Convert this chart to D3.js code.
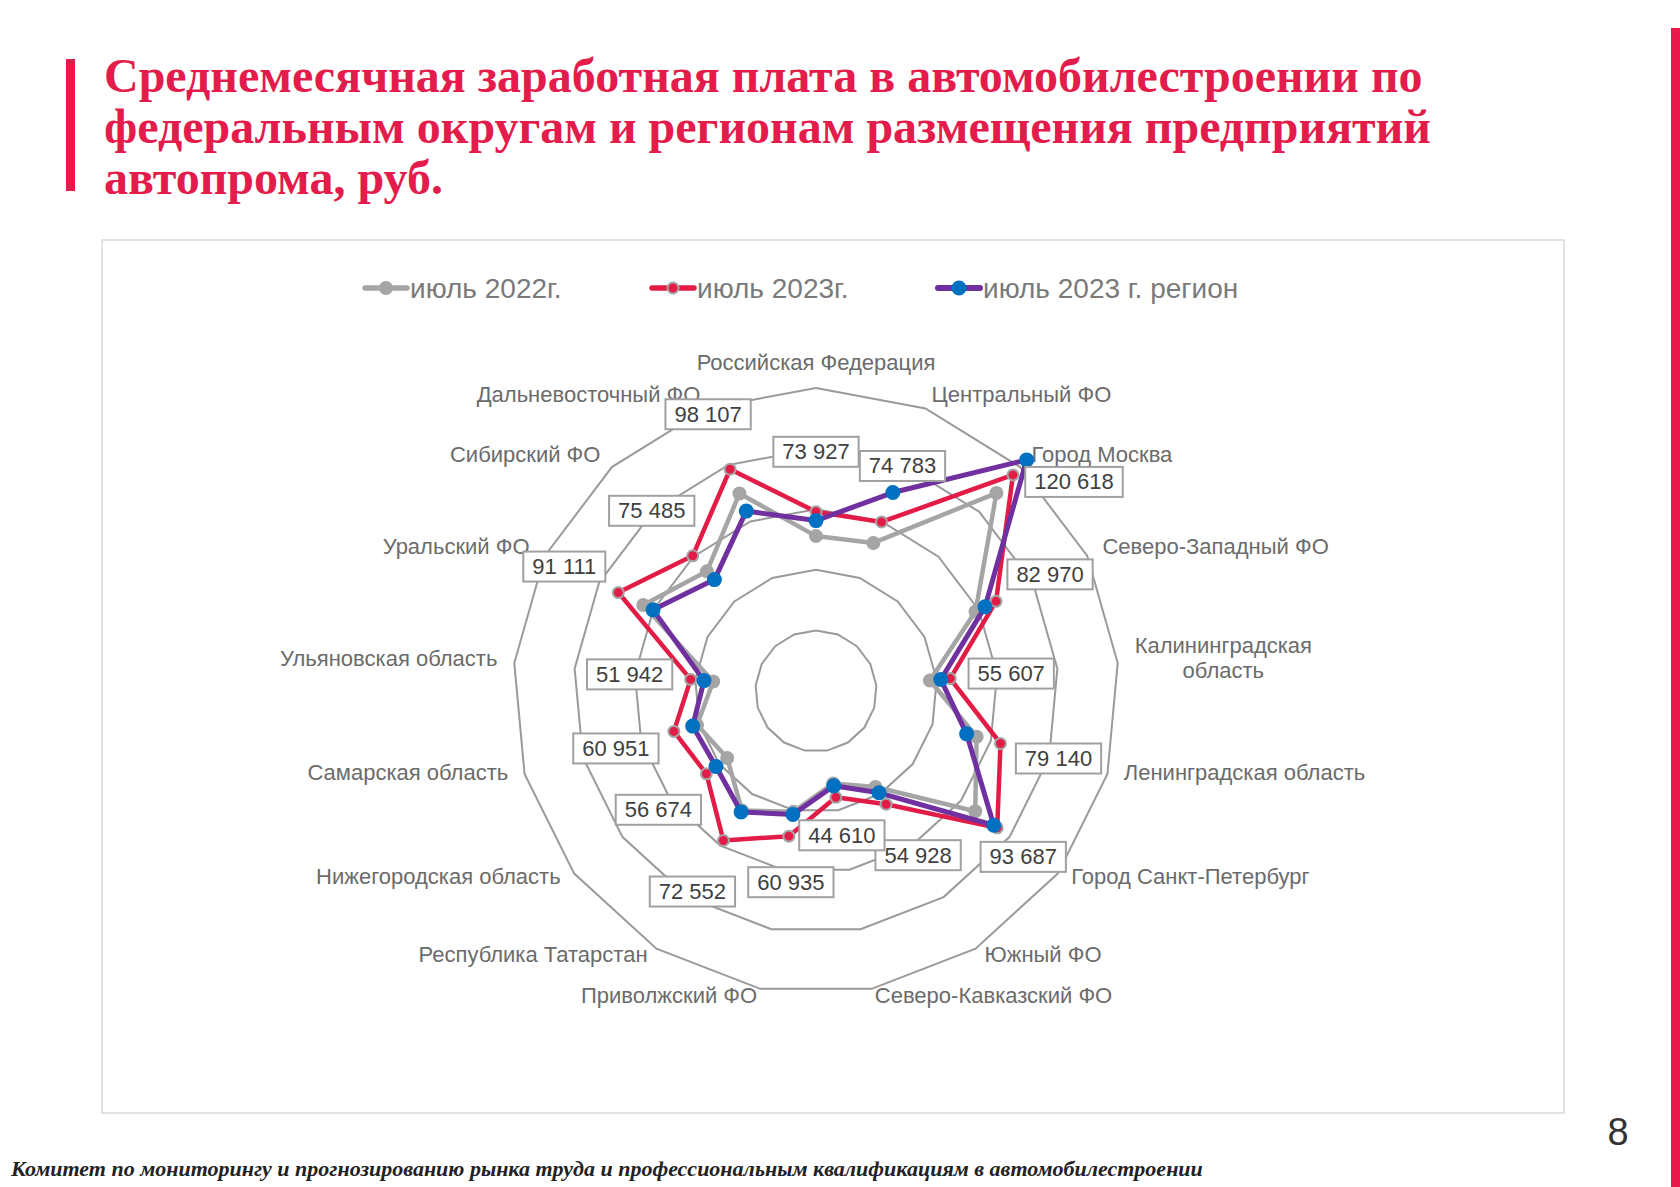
<!DOCTYPE html>
<html lang="ru">
<head>
<meta charset="utf-8">
<title>Среднемесячная заработная плата в автомобилестроении</title>
<script src="https://cdn.jsdelivr.net/npm/d3@7"></script>
<style>
  body { margin: 0; background: #fff; }
  svg { display: block; }
  .title { font-family: "Liberation Serif", "Times New Roman", serif; font-weight: bold; font-size: 48px; fill: #e31c4b; }
  .footer { font-family: "Liberation Serif", "Times New Roman", serif; font-weight: bold; font-style: italic; font-size: 22px; fill: #222; }
  .page-num { font-family: "Liberation Sans", Arial, sans-serif; font-size: 38px; fill: #333; }
  .cat-label { font-family: "Liberation Sans", Arial, sans-serif; font-size: 22px; fill: #6b6b6b; }
  .legend-text { font-family: "Liberation Sans", Arial, sans-serif; font-size: 28px; fill: #7a7a7a; }
  .val-label { font-family: "Liberation Sans", Arial, sans-serif; font-size: 22px; fill: #404040; }
</style>
</head>
<body>
<svg id="chart" width="1680" height="1187"></svg>
<script>
// данные
const categories = [
  "Российская Федерация", "Центральный ФО", "Город Москва", "Северо-Западный ФО",
  "Калининградская область", "Ленинградская область", "Город Санкт-Петербург",
  "Южный ФО", "Северо-Кавказский ФО", "Приволжский ФО", "Республика Татарстан",
  "Нижегородская область", "Самарская область", "Ульяновская область",
  "Уральский ФО", "Сибирский ФО", "Дальневосточный ФО"
];
const wage2022 = [63900, 65500, 110500, 73500, 47200, 68900, 82300, 46600, 38800, 50700, 58000, 45900, 51000, 42600, 79600, 66800, 87400];
const wage2023 = [73927, 74783, 120618, 82970, 55607, 79140, 93687, 54928, 44610, 60935, 72552, 56674, 60951, 51942, 91111, 75485, 98107];
const wage2023Region = [70300, 87800, 129000, 77900, 51700, 64600, 91900, 49400, 39800, 51800, 58700, 51700, 52900, 46400, 75100, 62200, 79600];
const seriesNames = ["июль 2022г.", "июль 2023г.", "июль 2023 г. регион"];
const ringTicks = [25000, 50000, 75000, 100000, 125000];

// смещения подписей значений (вручную разнесены, как на слайде)
const labelNudge = [
  [0, -60], [21, -56], [61, 7], [54, -27], [61, -5], [58, 15], [26, 29], [32, 51], [6, 38],
  [2, 46], [-31, 51], [-48, 36], [-58, 17], [-61, -5], [-54, -26], [-41, -45], [-22, -55]
];
const wrapped = { 4: ["Калининградская", "область"] };

const svg = d3.select("#chart");
const cx = 816, cy = 691;
const n = categories.length;

// оформление слайда
svg.append("rect").attr("x", 66).attr("y", 59).attr("width", 9).attr("height", 132).attr("fill", "#e8194b");
svg.append("rect").attr("x", 1671).attr("y", 28).attr("width", 9).attr("height", 1159).attr("fill", "#e8194b");

const titleLines = [
  "Среднемесячная заработная плата в автомобилестроении по",
  "федеральным округам и регионам размещения предприятий",
  "автопрома, руб."
];
svg.selectAll(".title").data(titleLines).enter().append("text")
  .attr("class", "title")
  .attr("x", 104)
  .attr("y", (d, i) => 92 + i * 51)
  .text(d => d);

svg.append("rect").attr("x", 102).attr("y", 240).attr("width", 1462).attr("height", 873)
  .attr("fill", "#fff").attr("stroke", "#d9d9d9").attr("stroke-width", 1.5);

svg.append("text").attr("class", "page-num").attr("x", 1618).attr("y", 1145)
  .attr("text-anchor", "middle").text("8");
svg.append("text").attr("class", "footer").attr("x", 11).attr("y", 1176)
  .text("Комитет по мониторингу и прогнозированию рынка труда и профессиональным квалификациям в автомобилестроении");

// шкалы
const r = d3.scaleLinear().domain([0, 125000]).range([0, 303]);
const angle = d3.scaleLinear().domain([0, n]).range([0, 2 * Math.PI]);

const g = svg.append("g").attr("transform", `translate(${cx},${cy})`);

// сетка
const ringLine = d3.lineRadial()
  .angle((d, i) => angle(i))
  .radius(d => r(d))
  .curve(d3.curveLinearClosed);

g.selectAll(".ring").data(ringTicks).enter().append("path")
  .attr("class", "ring")
  .attr("d", t => ringLine(categories.map(() => t)))
  .attr("fill", "none")
  .attr("stroke", "#9a9a9a")
  .attr("stroke-width", 2);

// подписи категорий
const labelR = 320;
categories.forEach((d, i) => {
  const a = angle(i);
  const s = Math.sin(a), c = Math.cos(a);
  const anchor = s > 0.1 ? "start" : s < -0.1 ? "end" : "middle";
  const shift = anchor === "middle" ? -9 : -4 + 5.8 * c;
  const x = labelR * s, y = -labelR * c + shift;
  const lines = wrapped[i] || [d];
  const texts = lines.map((ln, k) => g.append("text")
    .attr("class", "cat-label")
    .attr("dominant-baseline", "central")
    .attr("y", y + (k - (lines.length - 1) / 2) * 25)
    .text(ln));
  if (lines.length > 1) {
    const w = d3.max(texts, t => t.node().getComputedTextLength());
    const xm = anchor === "start" ? x + w / 2 : anchor === "end" ? x - w / 2 : x;
    texts.forEach(t => t.attr("x", xm).attr("text-anchor", "middle"));
  } else {
    texts[0].attr("x", x).attr("text-anchor", anchor);
  }
});

// серии
const series = [
  { name: seriesNames[0], values: wage2022, line: "#a5a5a5", fill: "#a5a5a5", stroke: "#a5a5a5", width: 4.5, mr: 6 },
  { name: seriesNames[1], values: wage2023, line: "#e31c47", fill: "#e31c47", stroke: "#a5a5a5", width: 4.5, mr: 5.5 },
  { name: seriesNames[2], values: wage2023Region, line: "#7030a0", fill: "#0070c0", stroke: "#0070c0", width: 5, mr: 6.5 }
];

const seriesLine = d3.lineRadial()
  .angle((d, i) => angle(i))
  .radius(d => r(d))
  .curve(d3.curveLinearClosed);

const px = (v, i) => r(v) * Math.sin(angle(i));
const py = (v, i) => -r(v) * Math.cos(angle(i));

series.forEach(s => {
  const sg = g.append("g");
  sg.append("path")
    .attr("d", seriesLine(s.values))
    .attr("fill", "none")
    .attr("stroke", s.line)
    .attr("stroke-width", s.width)
    .attr("stroke-linejoin", "round");
  sg.selectAll("circle").data(s.values).enter().append("circle")
    .attr("cx", (d, i) => px(d, i))
    .attr("cy", (d, i) => py(d, i))
    .attr("r", s.mr)
    .attr("fill", s.fill)
    .attr("stroke", s.stroke)
    .attr("stroke-width", 2);
});

// подписи значений (июль 2023)
const fmt = d3.formatLocale({ decimal: ",", thousands: " ", grouping: [3], currency: ["", ""] }).format(",d");
const lab = g.selectAll(".val").data(wage2023).enter().append("g").attr("class", "val");
lab.each(function(d, i) {
  const x = px(d, i) + labelNudge[i][0];
  const y = py(d, i) + labelNudge[i][1];
  const lg = d3.select(this);
  const box = lg.append("rect");
  const t = lg.append("text").attr("class", "val-label")
    .attr("x", x).attr("y", y)
    .attr("text-anchor", "middle").attr("dominant-baseline", "central")
    .text(fmt(d));
  const w = t.node().getComputedTextLength();
  box.attr("x", x - w / 2 - 9).attr("y", y - 15)
    .attr("width", w + 18).attr("height", 30)
    .attr("fill", "#fff").attr("stroke", "#a0a0a0").attr("stroke-width", 2);
});

// легенда
const legendX = [365, 652, 938];
const leg = svg.selectAll(".leg").data(series).enter().append("g")
  .attr("transform", (d, i) => `translate(${legendX[i]},288)`);
leg.append("line").attr("x1", 0).attr("x2", 42).attr("y1", 0).attr("y2", 0)
  .attr("stroke", d => d.line).attr("stroke-width", d => d.width + 1).attr("stroke-linecap", "round");
leg.append("circle").attr("cx", 21).attr("cy", 0).attr("r", d => d.mr)
  .attr("fill", d => d.fill).attr("stroke", d => d.stroke).attr("stroke-width", 2);
leg.append("text").attr("class", "legend-text").attr("x", 45).attr("y", 0)
  .attr("dominant-baseline", "central").text(d => d.name);
</script>
</body>
</html>
